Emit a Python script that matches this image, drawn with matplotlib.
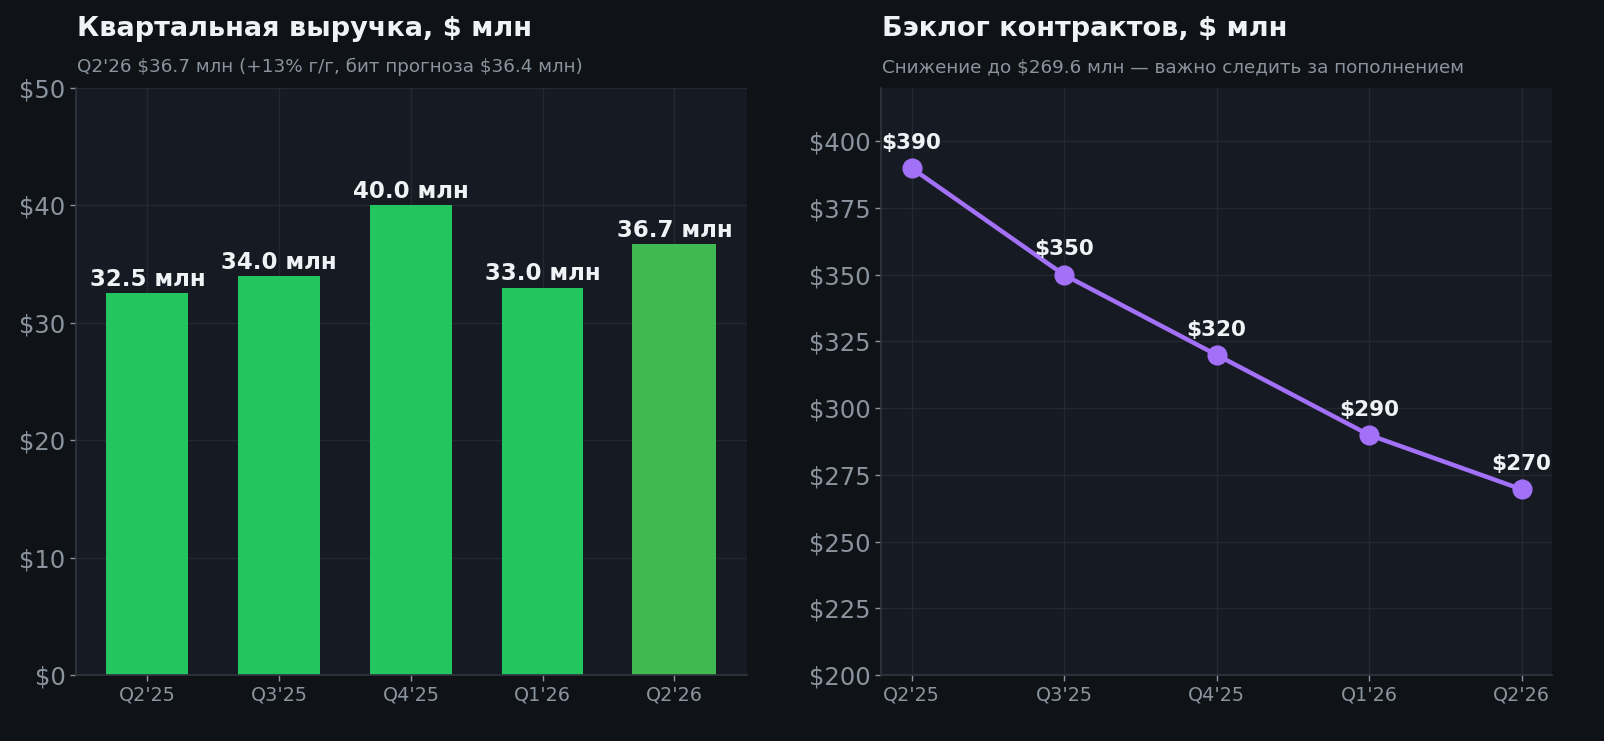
import matplotlib.pyplot as plt
from matplotlib.ticker import FuncFormatter

plt.rcParams["text.parse_math"] = False

# Daten
quartale = ["Q2'25", "Q3'25", "Q4'25", "Q1'26", "Q2'26"]
umsatz = [32.5, 34.0, 40.0, 33.0, 36.7]
backlog = [390, 350, 320, 290, 269.6]

FIG_BG = "#0f1317"
AX_BG = "#161a23"
GRID = "#232831"
SPINE = "#30363d"
TICK = "#8b949e"
TEXT = "#f0f3f6"
GRUEN = "#22c55e"
GRUEN_LETZT = "#3fb950"
LILA = "#a371f7"

W, H = 1604, 741
fig = plt.figure(figsize=(W / 100, H / 100), dpi=100, facecolor=FIG_BG)


def achse_stylen(ax):
    ax.set_facecolor(AX_BG)
    for s in ["top", "right"]:
        ax.spines[s].set_visible(False)
    for s in ["left", "bottom"]:
        ax.spines[s].set_color(SPINE)
        ax.spines[s].set_linewidth(1.2)
    ax.grid(True, color=GRID, linewidth=1)
    ax.set_axisbelow(True)
    ax.tick_params(axis="y", colors=TICK, labelsize=17.5, length=4, width=1)
    ax.tick_params(axis="x", colors=TICK, labelsize=13.8, length=4, width=1)


def kopf(x_px, titel, untertitel):
    fig.text(x_px / W, 1 - 36 / H, titel, color=TEXT, fontsize=19.5,
             fontweight="bold", va="baseline", ha="left")
    fig.text(x_px / W, 1 - 72 / H, untertitel, color=TICK, fontsize=13.2,
             va="baseline", ha="left")


# Linkes Diagramm: Umsatz
ax1 = fig.add_axes([76 / W, 66 / H, 671 / W, 587 / H])
achse_stylen(ax1)
x = range(len(quartale))
farben = [GRUEN] * (len(quartale) - 1) + [GRUEN_LETZT]
breiten = [0.62] * (len(quartale) - 1) + [0.64]
balken = ax1.bar(x, umsatz, color=farben, width=breiten)
ax1.bar_label(balken, labels=[f"{v:.1f} млн" for v in umsatz], padding=1.5,
              color=TEXT, fontsize=16.5, fontweight="bold")
ax1.set_ylim(0, 50)
ax1.set_yticks(range(0, 51, 10))
ax1.yaxis.set_major_formatter(FuncFormatter(lambda v, p: f"${v:.0f}"))
ax1.set_xticks(list(x))
ax1.set_xticklabels(quartale)
kopf(77, "Квартальная выручка, $ млн",
     "Q2'26 $36.7 млн (+13% г/г, бит прогноза $36.4 млн)")

# Rechtes Diagramm: Backlog
ax2 = fig.add_axes([881 / W, 66 / H, 671 / W, 587 / H])
achse_stylen(ax2)
ax2.plot(list(x), backlog, color=LILA, linewidth=3.2, marker="o",
         markersize=13.5)
for xi, v in zip(x, backlog):
    ax2.annotate(f"${v:.0f}", (xi, v), xytext=(0, 11), textcoords="offset points",
                 ha="center", va="bottom", color=TEXT, fontsize=15.5,
                 fontweight="bold")
ax2.set_xlim(-0.2, 4.2)
ax2.set_ylim(200, 420)
ax2.set_yticks(range(200, 401, 25))
ax2.yaxis.set_major_formatter(FuncFormatter(lambda v, p: f"${v:.0f}"))
ax2.set_xticks(list(x))
ax2.set_xticklabels(quartale)
kopf(882, "Бэклог контрактов, $ млн",
     "Снижение до $269.6 млн — важно следить за пополнением")

fig.savefig("out.png", dpi=100, facecolor=FIG_BG)
